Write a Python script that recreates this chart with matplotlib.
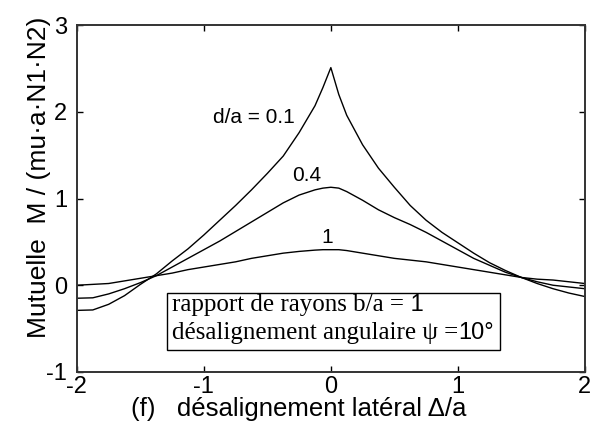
import matplotlib.pyplot as plt
from matplotlib.patches import Rectangle

# lateral misalignment Delta/a
x_pos = [-2.0, -1.875, -1.75, -1.625, -1.5, -1.375, -1.25, -1.125, -1.0,
         -0.875, -0.75, -0.625, -0.5, -0.375, -0.25, -0.125, -0.0625,
         0.0, 0.0625, 0.125, 0.25, 0.375, 0.5, 0.625, 0.75, 0.875,
         1.0, 1.125, 1.25, 1.375, 1.5, 1.625, 1.75, 1.875, 2.0]

# mutual inductance for d/a = 0.1, 0.4, 1
m_d01 = [-0.29, -0.285, -0.22, -0.12, 0.01, 0.13, 0.28, 0.42, 0.58,
         0.75, 0.92, 1.10, 1.29, 1.49, 1.76, 2.07, 2.28,
         2.51, 2.20, 1.96, 1.62, 1.35, 1.13, 0.92, 0.75, 0.61,
         0.49, 0.37, 0.26, 0.17, 0.09, 0.02, -0.04, -0.09, -0.13]
m_d04 = [-0.15, -0.145, -0.10, -0.04, 0.03, 0.11, 0.21, 0.31, 0.41,
         0.51, 0.62, 0.73, 0.84, 0.95, 1.04, 1.10, 1.12,
         1.13, 1.12, 1.08, 0.98, 0.87, 0.78, 0.70, 0.61, 0.51,
         0.41, 0.31, 0.23, 0.15, 0.09, 0.04, 0.00, -0.02, -0.04]
m_d1 = [0.00, 0.01, 0.02, 0.05, 0.08, 0.11, 0.14, 0.18, 0.21,
        0.24, 0.27, 0.31, 0.34, 0.37, 0.39, 0.405, 0.41,
        0.41, 0.41, 0.40, 0.37, 0.34, 0.31, 0.29, 0.27, 0.24,
        0.21, 0.18, 0.15, 0.12, 0.09, 0.07, 0.06, 0.04, 0.02]

xticks = [-2, -1, 0, 1, 2]
yticks = [-1, 0, 1, 2, 3]

plt.rcParams['font.family'] = ['Liberation Sans', 'DejaVu Sans']
plt.rcParams['axes.unicode_minus'] = False

fig = plt.figure(figsize=(6.01, 4.33), dpi=100)
ax = fig.add_axes([0.128, 0.141, 0.845, 0.801])

for m in (m_d01, m_d04, m_d1):
    ax.plot(x_pos, m, color='black', lw=1.0)

ax.set_xlim(-2, 2)
ax.set_ylim(-1, 3)
ax.set_xticks(xticks)
ax.set_yticks(yticks)
ax.tick_params(direction='in', length=4, width=1, top=True, right=True,
               labelsize=17)
ax.tick_params(axis='x', pad=3)
ax.tick_params(axis='y', pad=7)
for s in ax.spines.values():
    s.set_linewidth(1.4)
    s.set_color('#333333')

ax.set_ylabel('Mutuelle  M / (mu·a·N1·N2)', fontsize=19)
ax.yaxis.set_label_coords(-0.052, 0.56)
ax.set_xlabel('(f)   désalignement latéral Δ/a', fontsize=18.5)
ax.xaxis.set_label_coords(0.436, -0.072)

# curve labels
ax.text(-0.61, 1.94, 'd/a = 0.1', fontsize=15, ha='center', va='center')
ax.text(-0.19, 1.26, '0.4', fontsize=15, ha='center', va='center')
ax.text(-0.03, 0.55, '1', fontsize=15, ha='center', va='center')

# parameter box
ax.add_patch(Rectangle((0.178, 0.063), 0.656, 0.165, transform=ax.transAxes,
                       fill=False, edgecolor='black', lw=1.0))
t1 = ax.text(0.188, 0.193, 'rapport de rayons b/a =', transform=ax.transAxes,
             family='Liberation Serif', fontsize=18, va='center')
ax.annotate(' 1', xy=(1, 0), xycoords=t1, va='bottom', fontsize=17)
t2 = ax.text(0.188, 0.112, 'désalignement angulaire ψ =', transform=ax.transAxes,
             family='Liberation Serif', fontsize=18, va='center')
ax.annotate('10°', xy=(1, 0), xycoords=t2, va='bottom', fontsize=17)

fig.savefig('out.png', dpi=100)
